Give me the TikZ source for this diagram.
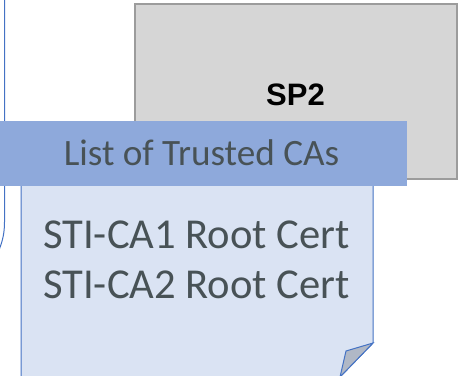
\documentclass[tikz,border=0pt]{standalone}
\usepackage{fontspec}
\setmainfont{Carlito}
\newfontfamily\arialfont{Liberation Sans}
\definecolor{edgeblue}{HTML}{4472C4}
\definecolor{headblue}{HTML}{8EA9DB}
\definecolor{notefill}{HTML}{DAE3F3}
\definecolor{foldgray}{HTML}{B0B8C6}
\definecolor{boxfill}{HTML}{D6D6D6}
\definecolor{boxedge}{HTML}{9C9C9C}
\definecolor{textgray}{HTML}{485256}

\begin{document}
\begin{tikzpicture}[x=1pt,y=-1pt,
  bluedge/.style={draw=edgeblue, line width=1pt},
  lbl/.style={text=textgray, inner sep=0pt}]
% Lista de CAs de confianza sobre el SP2
\useasboundingbox (0,0) rectangle (462,375);
\draw[bluedge] (4.5,-5) -- (4.5,222) .. controls (4.5,232) and (3,240) .. (-1,250);
\draw[fill=boxfill, draw=boxedge, line width=2pt] (135,3.5) rectangle (457,179);
\node (sp2) at (295.5,105) [anchor=base, inner sep=0pt] {\arialfont\bfseries\fontsize{31}{36}\selectfont SP2};
\draw[bluedge, fill=notefill] (21,185) -- (373,185) -- (373,343) -- (340,377) -- (21,377) -- cycle;
\draw[bluedge, fill=foldgray] (373,343) -- (346,351) -- (340,377) -- cycle;
\fill[headblue] (0,121) rectangle (407,186);
\node (head) at (201.5,165) [lbl, anchor=base] {\fontsize{37.2}{42}\selectfont List of Trusted CAs};
\node (cert1) at (43,248) [lbl, anchor=base west] {\fontsize{42.6}{50}\selectfont STI-CA1 Root Cert};
\node (cert2) at (43,298) [lbl, anchor=base west] {\fontsize{42.6}{50}\selectfont STI-CA2 Root Cert};
\end{tikzpicture}
\end{document}
